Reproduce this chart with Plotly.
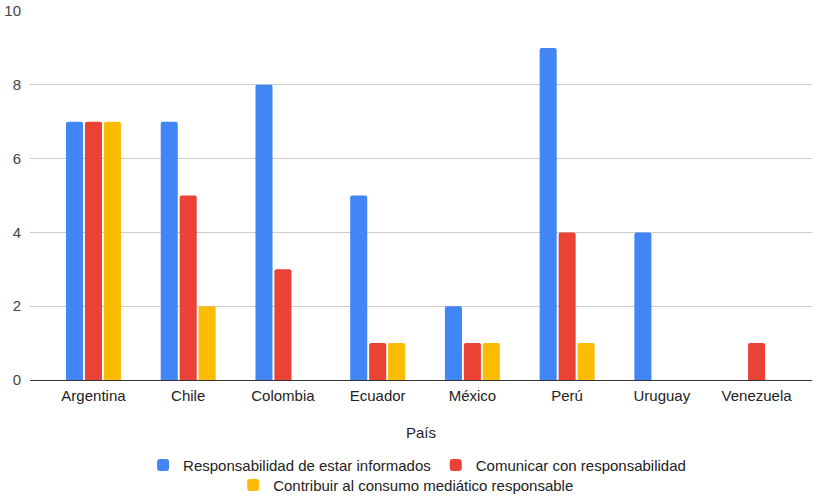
import plotly.graph_objects as go

categories = ["Argentina", "Chile", "Colombia", "Ecuador", "México", "Perú", "Uruguay", "Venezuela"]
informados = [7, 7, 8, 5, 2, 9, 4, 0]
comunicar = [7, 5, 3, 1, 1, 4, 0, 1]
contribuir = [7, 2, 0, 1, 1, 1, 0, 0]

series_names = [
    "Responsabilidad de estar informados",
    "Comunicar con responsabilidad",
    "Contribuir al consumo mediático responsable",
]
colors = ["#4285F4", "#EA4335", "#FBBC04"]

fig = go.Figure()
for name, vals, col, lg in zip(series_names, [informados, comunicar, contribuir], colors,
                               ["legend", "legend", "legend2"]):
    fig.add_trace(go.Bar(x=categories, y=vals, name=name, marker_color=col,
                         marker_line_width=0, legend=lg))

font_family = "Arial, 'Liberation Sans', sans-serif"
fs = 15
fig.update_layout(
    width=817, height=496,
    margin=dict(l=30, r=5, t=11, b=115.5, autoexpand=False),
    paper_bgcolor="white", plot_bgcolor="white",
    barmode="group", bargap=0.4, bargroupgap=0.1, barcornerradius=2,
    font=dict(family=font_family, size=fs, color="#222222"),
    xaxis=dict(
        range=[-0.67, 7.585], showgrid=False, showline=False, ticks="",
        automargin=False, ticklabelstandoff=5,
        tickfont=dict(size=fs, color="#222222"),
        title=dict(text="País", standoff=24, font=dict(size=fs, color="#222222")),
    ),
    yaxis=dict(
        range=[0, 10], dtick=2, showgrid=True, gridcolor="#cccccc", gridwidth=1,
        zeroline=True, zerolinecolor="#333333", zerolinewidth=1.3,
        automargin=False,
        showline=False, ticks="", tickfont=dict(size=fs, color="#444444"),
        ticklabelstandoff=8,
    ),
    legend=dict(orientation="h", x=0.495, xanchor="center", y=-0.231, yanchor="middle",
                bgcolor="rgba(0,0,0,0)",
                font=dict(size=fs, color="#222222"), itemclick=False),
    legend2=dict(orientation="h", x=0.481, xanchor="center", y=-0.285, yanchor="middle",
                 bgcolor="rgba(0,0,0,0)",
                 font=dict(size=fs, color="#222222"), itemclick=False),
    showlegend=True,
)

fig.write_html("out.html")
